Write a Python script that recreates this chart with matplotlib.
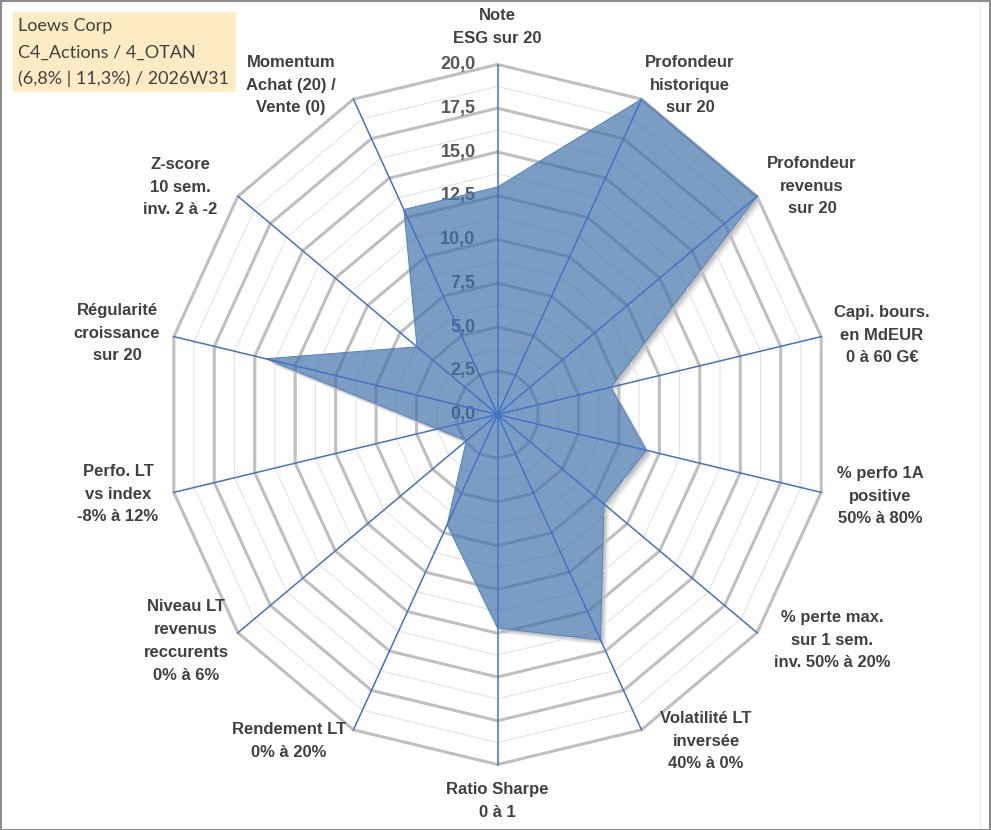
import numpy as np
import matplotlib
matplotlib.use("Agg")
import matplotlib.pyplot as plt
from matplotlib.patches import Rectangle, Polygon
import matplotlib.transforms as mtransforms

# ---------------- data ----------------
categories = [
    "Note\nESG sur 20",
    "Profondeur\nhistorique\nsur 20",
    "Profondeur\nrevenus\nsur 20",
    "Capi. bours.\nen MdEUR\n0 à 60 G€",
    "% perfo 1A\npositive\n50% à 80%",
    "% perte max.\nsur 1 sem.\ninv. 50% à 20%",
    "Volatilité LT\ninversée\n40% à 0%",
    "Ratio Sharpe\n0 à 1",
    "Rendement LT\n0% à 20%",
    "Niveau LT\nrevenus\nreccurents\n0% à 6%",
    "Perfo. LT\nvs index\n-8% à 12%",
    "Régularité\ncroissance\nsur 20",
    "Z-score\n10 sem.\ninv. 2 à -2",
    "Momentum\nAchat (20) /\nVente (0)",
]
values = [13.0, 20.0, 20.0, 7.0, 9.2, 8.2, 14.3, 12.2, 7.0, 2.4, 3.7, 14.3, 6.2, 13.0]
tick_values = [0.0, 2.5, 5.0, 7.5, 10.0, 12.5, 15.0, 17.5, 20.0]
tick_labels = ["0,0", "2,5", "5,0", "7,5", "10,0", "12,5", "15,0", "17,5", "20,0"]
title_lines = ["Loews Corp", "C4_Actions / 4_OTAN", "(6,8% | 11,3%) / 2026W31"]

# ---------------- layout ----------------
W, H = 991, 830
DPI = 100
CX, CY = 497.5, 414.5          # centre in pixels (from top)
SY = 17.5                      # px per unit vertically
SX = 16.6                      # px per unit horizontally
RMAX = 20.0
LABEL_FONT = ["Liberation Sans", "DejaVu Sans"]

fig = plt.figure(figsize=(W / DPI, H / DPI), dpi=DPI)
fig.patch.set_facecolor("white")
ax = fig.add_axes([0, 0, 1, 1])
ax.set_xlim(-CX / SX, (W - CX) / SX)
ax.set_ylim(-(H - CY) / SY, CY / SY)
ax.axis("off")

n = len(categories)
ang = np.arange(n) * 2 * np.pi / n
sx, cy = np.sin(ang), np.cos(ang)

def px(x, y):
    """pixel (from top-left) -> data coords"""
    return (x - CX) / SX, (CY - y) / SY

xs, ys = np.array(values) * sx, np.array(values) * cy
poly_xy = np.column_stack([xs, ys])

# soft shadow of the series, then a white base so the shadow stays outside
for off, a in [(6, 0.035), (5, 0.045), (4, 0.055), (3, 0.065), (2, 0.07)]:
    tr = mtransforms.offset_copy(ax.transData, fig=fig, x=off * 0.72, y=-off * 0.72, units="points")
    ax.add_patch(Polygon(poly_xy, closed=True, facecolor="black",
                         edgecolor="none", alpha=a, transform=tr, zorder=0.5))
ax.add_patch(Polygon(poly_xy, closed=True, facecolor="white", edgecolor="none", zorder=0.6))

# grid rings
minor_levels = np.arange(1.25, RMAX, 2.5)
for r in minor_levels:
    ax.plot(np.append(r * sx, r * sx[0]), np.append(r * cy, r * cy[0]),
            color="#e3e3e3", lw=0.8, zorder=1)
for r in tick_values[1:]:
    ax.plot(np.append(r * sx, r * sx[0]), np.append(r * cy, r * cy[0]),
            color="#bfbfbf", lw=2.2, zorder=1.5, solid_joinstyle="miter")

# tick labels along top axis
for v, lab in zip(tick_values, tick_labels):
    ax.text(-22 / SX, v, lab, ha="right", va="center", fontsize=13,
            fontweight="bold", color="#595959", family=LABEL_FONT, zorder=2)

# filled series
ax.add_patch(Polygon(poly_xy, closed=True, facecolor="#3d6fa8",
                     alpha=0.68, edgecolor="none", zorder=3))
ax.add_patch(Polygon(poly_xy, closed=True, facecolor="none",
                     edgecolor="#5b86c0", lw=0.8, zorder=3.2))

# spokes
for s, c in zip(sx, cy):
    ax.plot([0, RMAX * s], [0, RMAX * c], color="#4472c4", lw=1.1, zorder=4)
ax.plot([0], [0], marker="o", ms=4, color="#4472c4", zorder=4)

# category labels (label-box centres, pixels)
label_centres = [
    (497, 27), (690, 85), (812, 186), (882, 335), (880, 496), (832, 640),
    (706, 741), (497, 801), (289, 741), (186, 641), (118, 494), (117, 333),
    (180, 187), (291, 85),
]
for lab, (lx, ly) in zip(categories, label_centres):
    x, y = px(lx, ly)
    ax.text(x, y, lab, ha="center", va="center", multialignment="center",
            fontsize=12, fontweight="bold", color="#404040",
            family=LABEL_FONT, linespacing=1.65, zorder=5)

# title box
fig.add_artist(Rectangle((13 / W, 1 - 92 / H), (236 - 13) / W, (92 - 12) / H,
                         transform=fig.transFigure, facecolor="#fdebc4",
                         edgecolor="none", zorder=6))
for i, t in enumerate(title_lines):
    fig.text(18 / W, 1 - (26 + i * 26.5) / H, t, ha="left", va="center",
             fontsize=13, color="#404040", family="Lato", zorder=7)

# frame
fig.add_artist(plt.Line2D([980 / W, 980 / W], [2 / H, 1 - 2 / H],
                          transform=fig.transFigure, color="#ececec", lw=0.8))
fig.add_artist(Rectangle((0.5 / W, 0.5 / H), 1 - 1.5 / W, 1 - 1.5 / H,
                         transform=fig.transFigure, facecolor="none",
                         edgecolor="#8c8c8c", lw=1.5, zorder=10))

fig.savefig("out.png", dpi=DPI, facecolor="white")
